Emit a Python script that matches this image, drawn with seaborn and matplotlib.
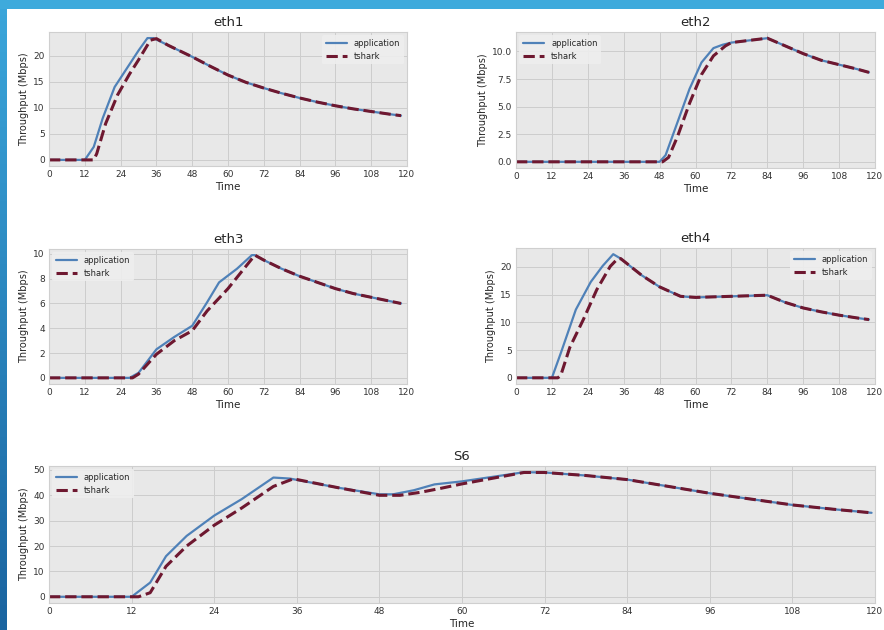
"""Application vs tshark throughput per interface (eth1..eth4, S6)."""

import matplotlib

matplotlib.use("Agg")

import matplotlib.pyplot as plt
import numpy as np
import pandas as pd
import seaborn as sns
from matplotlib.patches import Rectangle

# ---- data ----
ETH1_APP_T = [0, 12, 15, 18, 22, 26, 30, 33, 35, 40, 48, 54, 60, 66, 72, 78, 84, 90, 96, 102, 108, 114, 118]
ETH1_APP = [0, 0, 2.5, 8, 14, 17.5, 21, 23.4, 23.4, 22.0, 19.8, 18.0, 16.3, 14.9, 13.8, 12.8, 11.9, 11.1, 10.4, 9.8, 9.3, 8.8, 8.5]
ETH1_TSH_T = [0, 15, 16, 19, 23, 27, 30, 34, 36, 40, 48, 54, 60, 66, 72, 78, 84, 90, 96, 102, 108, 114, 118]
ETH1_TSH = [0, 0, 1.2, 7.0, 12.5, 16.5, 19.2, 23.0, 23.3, 22.0, 19.8, 18.0, 16.3, 14.9, 13.8, 12.8, 11.9, 11.1, 10.4, 9.8, 9.3, 8.8, 8.5]

ETH2_APP_T = [0, 48, 50, 54, 58, 62, 66, 69, 72, 78, 84, 90, 96, 102, 108, 114, 118]
ETH2_APP = [0, 0, 0.6, 3.6, 6.6, 9.0, 10.3, 10.6, 10.8, 11.0, 11.2, 10.5, 9.8, 9.2, 8.8, 8.4, 8.1]
ETH2_TSH_T = [0, 49, 51, 54, 58, 62, 66, 70, 72, 78, 84, 90, 96, 102, 108, 114, 118]
ETH2_TSH = [0, 0, 0.4, 2.3, 5.3, 7.9, 9.6, 10.5, 10.8, 11.0, 11.2, 10.5, 9.8, 9.2, 8.8, 8.4, 8.1]

ETH3_APP_T = [0, 27, 30, 36, 42, 48, 53, 57, 63, 68, 69, 72, 78, 84, 90, 96, 102, 108, 114, 118]
ETH3_APP = [0, 0, 0.4, 2.3, 3.3, 4.2, 6.1, 7.7, 8.8, 9.9, 9.9, 9.5, 8.8, 8.2, 7.7, 7.2, 6.8, 6.5, 6.2, 6.0]
ETH3_TSH_T = [0, 28, 30, 36, 42, 48, 53, 60, 66, 69, 72, 78, 84, 90, 96, 102, 108, 114, 118]
ETH3_TSH = [0, 0, 0.3, 1.9, 3.0, 3.8, 5.4, 7.2, 9.0, 9.9, 9.5, 8.8, 8.2, 7.7, 7.2, 6.8, 6.5, 6.2, 6.0]

ETH4_APP_T = [0, 12, 15, 20, 25, 29, 32.5, 35, 42, 48, 55, 60, 72, 84, 90, 96, 102, 108, 114, 118]
ETH4_APP = [0, 0, 4.5, 12.3, 17.3, 20.2, 22.3, 21.5, 18.5, 16.4, 14.7, 14.5, 14.7, 14.9, 13.6, 12.6, 11.9, 11.3, 10.8, 10.5]
ETH4_TSH_T = [0, 14, 15, 18, 22.5, 27, 31.5, 34, 35, 42, 48, 55, 60, 72, 84, 90, 96, 102, 108, 114, 118]
ETH4_TSH = [0, 0, 0.5, 5.5, 10.5, 15.9, 20.1, 21.5, 21.5, 18.5, 16.4, 14.7, 14.5, 14.7, 14.9, 13.6, 12.6, 11.9, 11.3, 10.8, 10.5]

S6_APP_T = [0, 12, 14.7, 17, 20, 24, 28, 32.6, 35, 42, 48, 50, 53, 56, 60, 65, 69, 72, 78, 84, 90, 96, 102, 108, 114, 119.5]
S6_APP = [0, 0, 5.6, 16, 24, 32, 38.5, 47, 46.6, 43, 40.4, 40.4, 42.0, 44.3, 45.5, 47.5, 49.1, 49.0, 47.8, 46.2, 43.5, 40.8, 38.5, 36.2, 34.5, 33.1]
S6_TSH_T = [0, 13, 14.7, 17, 20, 24, 28, 32.6, 35.5, 42, 48, 51, 54, 57, 60, 65, 69, 72, 78, 84, 90, 96, 102, 108, 114, 119.5]
S6_TSH = [0, 0, 1.6, 12, 20, 28.2, 35, 43.5, 46.5, 43, 40.0, 40.0, 41.2, 42.8, 44.5, 47.0, 49.0, 49.0, 47.8, 46.2, 43.5, 40.8, 38.5, 36.2, 34.5, 33.1]

PANELS = [
    ("eth1", ETH1_APP_T, ETH1_APP, ETH1_TSH_T, ETH1_TSH, [0, 5, 10, 15, 20], "upper right"),
    ("eth2", ETH2_APP_T, ETH2_APP, ETH2_TSH_T, ETH2_TSH, [0.0, 2.5, 5.0, 7.5, 10.0], "upper left"),
    ("eth3", ETH3_APP_T, ETH3_APP, ETH3_TSH_T, ETH3_TSH, [0, 2, 4, 6, 8, 10], "upper left"),
    ("eth4", ETH4_APP_T, ETH4_APP, ETH4_TSH_T, ETH4_TSH, [0, 5, 10, 15, 20], "upper right"),
    ("S6", S6_APP_T, S6_APP, S6_TSH_T, S6_TSH, [0, 10, 20, 30, 40, 50], "upper left"),
]
X_TICKS = list(range(0, 121, 12))

# axes boxes in pixels: left, top, right, bottom (figure is 884x630)
W, H = 884, 630
BOXES = [
    (49, 32, 407, 166),
    (516, 32, 875, 168),
    (49, 249, 407, 384),
    (516, 248, 875, 384),
    (49, 466, 875, 603),
]

APP_COLOR = "#4f81b8"
TSH_COLOR = "#6e1830"

sns.set_theme(style="darkgrid")
plt.rcParams.update(
    {
        "font.family": ["DejaVu Sans"],
        "axes.facecolor": "#e8e8e8",
        "axes.edgecolor": "#cfcfcf",
        "axes.linewidth": 0.8,
        "grid.color": "#cdcdcd",
        "grid.linewidth": 0.7,
        "xtick.direction": "in",
        "ytick.direction": "in",
        "xtick.major.size": 3,
        "ytick.major.size": 3,
        "xtick.color": "#333333",
        "ytick.color": "#333333",
    }
)

fig = plt.figure(figsize=(W / 100, H / 100), dpi=100)
fig.patch.set_facecolor("white")

for (name, app_t, app, tsh_t, tsh, yticks, loc), (l, t, r, b) in zip(PANELS, BOXES):
    ax = fig.add_axes([l / W, 1 - b / H, (r - l) / W, (b - t) / H])
    app_df = pd.DataFrame({"Time": app_t, "Throughput": app})
    tsh_df = pd.DataFrame({"Time": tsh_t, "Throughput": tsh})
    sns.lineplot(data=app_df, x="Time", y="Throughput", ax=ax, color=APP_COLOR,
                 linewidth=1.6, label="application", sort=False)
    sns.lineplot(data=tsh_df, x="Time", y="Throughput", ax=ax, color=TSH_COLOR,
                 linewidth=2.2, linestyle="--", dashes=(3.5, 2), label="tshark", sort=False)
    ax.set_xlim(0, 120)
    ymax = max(app + tsh)
    ax.set_ylim(-0.05 * ymax, 1.05 * ymax)
    ax.set_xticks(X_TICKS)
    ax.set_yticks(yticks)
    if name == "eth2":
        ax.set_yticklabels([f"{v:.1f}" for v in yticks])
    ax.tick_params(labelsize=6.5, pad=3, width=0.6, color="#555555")
    ax.set_title(name, fontsize=9.5, pad=4)
    ax.set_xlabel("Time", fontsize=7.5, labelpad=2)
    ax.set_ylabel("Throughput (Mbps)", fontsize=7, labelpad=3)
    ax.legend(loc=loc, fontsize=6, frameon=True, facecolor="#eeeeee", edgecolor="none",
              framealpha=0.9, handlelength=2.6, borderaxespad=0.4)

# screenshot frame: blue strip on top and gradient strip on the left
fig.patches.append(Rectangle((0, 1 - 9 / H), 1, 9 / H, transform=fig.transFigure,
                             facecolor="#3eaadc", edgecolor="none", zorder=5))
side = fig.add_axes([0, 0, 7 / W, 1 - 9 / H])
side.imshow(np.linspace(0, 1, 100).reshape(-1, 1), aspect="auto",
            cmap=matplotlib.colors.LinearSegmentedColormap.from_list("edge", ["#3aa5da", "#1a64a0"]))
side.axis("off")

fig.savefig("out.png", dpi=100)
